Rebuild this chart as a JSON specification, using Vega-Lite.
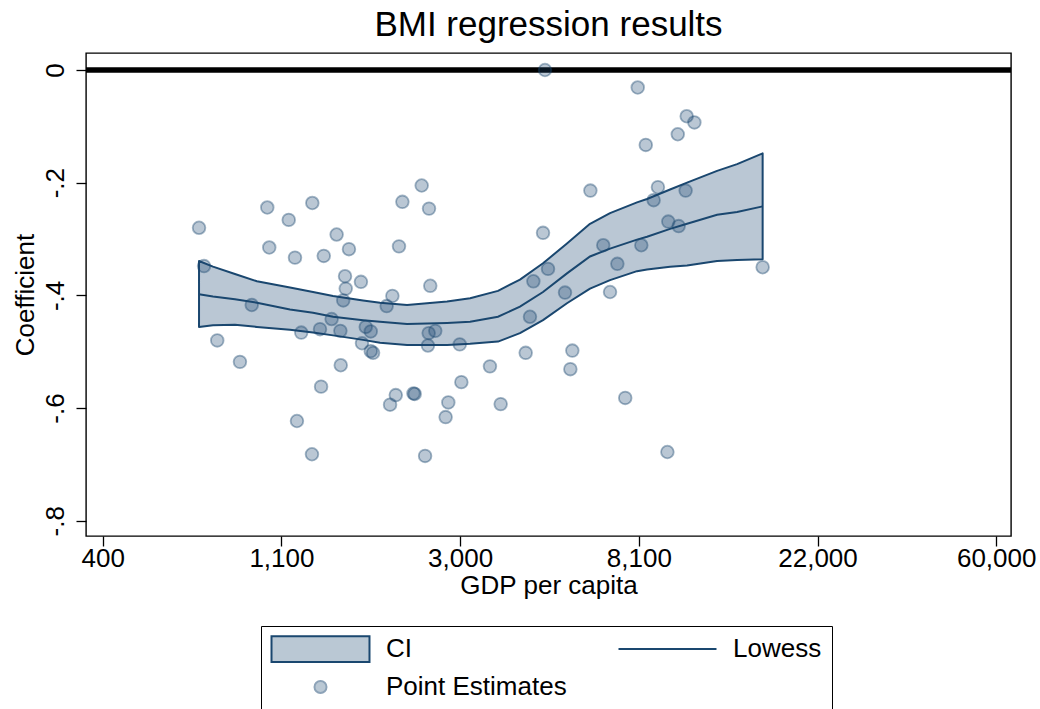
{
  "$schema": "https://vega.github.io/schema/vega-lite/v6.json",
  "width": 925,
  "height": 483,
  "autosize": {"type": "none"},
  "padding": {"left": 86, "top": 53, "right": 29, "bottom": 173},
  "background": "white",
  "title": {
    "text": "BMI regression results",
    "font": "Liberation Sans",
    "fontSize": 35,
    "fontWeight": "normal",
    "color": "#000",
    "anchor": "middle",
    "frame": "group",
    "baseline": "alphabetic",
    "offset": -17.5
  },
  "config": {
    "view": {"stroke": "#000", "strokeWidth": 1.4},
    "axis": {
      "domain": false,
      "grid": false,
      "tickColor": "#000",
      "tickWidth": 1.3,
      "tickSize": 10,
      "labelFont": "Liberation Sans",
      "labelFontSize": 26,
      "labelColor": "#000",
      "titleFont": "Liberation Sans",
      "titleFontSize": 26,
      "titleFontWeight": "normal",
      "titleColor": "#000",
      "labelOverlap": false,
      "labelFlush": false
    }
  },
  "datasets": {
    "points": [
      {"lngdp": 6.539, "coef": -0.280}, {"lngdp": 6.567, "coef": -0.348}, {"lngdp": 6.921, "coef": -0.244},
      {"lngdp": 7.041, "coef": -0.266}, {"lngdp": 7.173, "coef": -0.236}, {"lngdp": 6.932, "coef": -0.315},
      {"lngdp": 7.076, "coef": -0.333}, {"lngdp": 7.237, "coef": -0.330}, {"lngdp": 7.309, "coef": -0.292},
      {"lngdp": 7.378, "coef": -0.318}, {"lngdp": 7.677, "coef": -0.234}, {"lngdp": 7.785, "coef": -0.205},
      {"lngdp": 7.826, "coef": -0.246}, {"lngdp": 7.658, "coef": -0.313}, {"lngdp": 7.356, "coef": -0.366},
      {"lngdp": 7.445, "coef": -0.376}, {"lngdp": 7.360, "coef": -0.388}, {"lngdp": 7.833, "coef": -0.383},
      {"lngdp": 7.621, "coef": -0.401}, {"lngdp": 6.834, "coef": -0.417}, {"lngdp": 7.346, "coef": -0.409},
      {"lngdp": 7.589, "coef": -0.419}, {"lngdp": 7.281, "coef": -0.442}, {"lngdp": 7.111, "coef": -0.466},
      {"lngdp": 7.216, "coef": -0.460}, {"lngdp": 7.330, "coef": -0.463}, {"lngdp": 7.472, "coef": -0.456},
      {"lngdp": 7.500, "coef": -0.464}, {"lngdp": 7.824, "coef": -0.467}, {"lngdp": 7.861, "coef": -0.463},
      {"lngdp": 6.641, "coef": -0.480}, {"lngdp": 7.451, "coef": -0.485}, {"lngdp": 7.820, "coef": -0.489},
      {"lngdp": 7.998, "coef": -0.487}, {"lngdp": 6.768, "coef": -0.518}, {"lngdp": 7.500, "coef": -0.499},
      {"lngdp": 7.513, "coef": -0.502}, {"lngdp": 7.332, "coef": -0.524}, {"lngdp": 8.007, "coef": -0.554},
      {"lngdp": 7.222, "coef": -0.562}, {"lngdp": 7.640, "coef": -0.577}, {"lngdp": 7.608, "coef": -0.594},
      {"lngdp": 7.746, "coef": -0.575}, {"lngdp": 7.739, "coef": -0.574}, {"lngdp": 7.934, "coef": -0.590},
      {"lngdp": 7.919, "coef": -0.616}, {"lngdp": 7.087, "coef": -0.623}, {"lngdp": 7.171, "coef": -0.682},
      {"lngdp": 7.804, "coef": -0.685},
      {"lngdp": 8.475, "coef": 0.000}, {"lngdp": 8.994, "coef": -0.031}, {"lngdp": 9.268, "coef": -0.082},
      {"lngdp": 9.311, "coef": -0.093}, {"lngdp": 9.218, "coef": -0.114}, {"lngdp": 9.039, "coef": -0.133},
      {"lngdp": 8.729, "coef": -0.214}, {"lngdp": 9.107, "coef": -0.208}, {"lngdp": 9.083, "coef": -0.231},
      {"lngdp": 9.262, "coef": -0.214}, {"lngdp": 8.464, "coef": -0.289}, {"lngdp": 9.165, "coef": -0.269},
      {"lngdp": 9.223, "coef": -0.277}, {"lngdp": 8.801, "coef": -0.311}, {"lngdp": 9.014, "coef": -0.311},
      {"lngdp": 8.880, "coef": -0.344}, {"lngdp": 8.492, "coef": -0.353}, {"lngdp": 8.410, "coef": -0.375},
      {"lngdp": 8.587, "coef": -0.395}, {"lngdp": 8.839, "coef": -0.394}, {"lngdp": 9.693, "coef": -0.350},
      {"lngdp": 8.391, "coef": -0.438}, {"lngdp": 8.367, "coef": -0.502}, {"lngdp": 8.628, "coef": -0.498},
      {"lngdp": 8.167, "coef": -0.526}, {"lngdp": 8.617, "coef": -0.531}, {"lngdp": 8.227, "coef": -0.593},
      {"lngdp": 8.924, "coef": -0.582}, {"lngdp": 9.160, "coef": -0.678}
    ],
    "fit": [
      {"lngdp": 6.539, "hi": -0.339, "lowess": -0.398, "lo": -0.456},
      {"lngdp": 6.617, "hi": -0.349, "lowess": -0.402, "lo": -0.453},
      {"lngdp": 6.740, "hi": -0.362, "lowess": -0.407, "lo": -0.452},
      {"lngdp": 6.863, "hi": -0.375, "lowess": -0.413, "lo": -0.456},
      {"lngdp": 7.048, "hi": -0.386, "lowess": -0.425, "lo": -0.461},
      {"lngdp": 7.177, "hi": -0.394, "lowess": -0.431, "lo": -0.466},
      {"lngdp": 7.289, "hi": -0.401, "lowess": -0.438, "lo": -0.471},
      {"lngdp": 7.457, "hi": -0.409, "lowess": -0.444, "lo": -0.479},
      {"lngdp": 7.552, "hi": -0.413, "lowess": -0.447, "lo": -0.484},
      {"lngdp": 7.703, "hi": -0.417, "lowess": -0.451, "lo": -0.488},
      {"lngdp": 7.927, "hi": -0.411, "lowess": -0.449, "lo": -0.488},
      {"lngdp": 8.056, "hi": -0.405, "lowess": -0.447, "lo": -0.486},
      {"lngdp": 8.212, "hi": -0.392, "lowess": -0.438, "lo": -0.482},
      {"lngdp": 8.335, "hi": -0.372, "lowess": -0.420, "lo": -0.467},
      {"lngdp": 8.464, "hi": -0.343, "lowess": -0.394, "lo": -0.444},
      {"lngdp": 8.598, "hi": -0.308, "lowess": -0.361, "lo": -0.414},
      {"lngdp": 8.727, "hi": -0.273, "lowess": -0.331, "lo": -0.388},
      {"lngdp": 8.839, "hi": -0.254, "lowess": -0.317, "lo": -0.373},
      {"lngdp": 8.990, "hi": -0.235, "lowess": -0.301, "lo": -0.357},
      {"lngdp": 9.046, "hi": -0.229, "lowess": -0.296, "lo": -0.354},
      {"lngdp": 9.175, "hi": -0.212, "lowess": -0.282, "lo": -0.349},
      {"lngdp": 9.270, "hi": -0.200, "lowess": -0.273, "lo": -0.347},
      {"lngdp": 9.438, "hi": -0.179, "lowess": -0.257, "lo": -0.339},
      {"lngdp": 9.550, "hi": -0.167, "lowess": -0.252, "lo": -0.337},
      {"lngdp": 9.693, "hi": -0.148, "lowess": -0.242, "lo": -0.336}
    ]
  },
  "layer": [
    {
      "data": {"values": [{"ref": 0}]},
      "mark": {"type": "rule", "color": "#000", "strokeWidth": 5.5},
      "encoding": {
        "y": {"field": "ref", "type": "quantitative", "scale": {"domain": [-0.8271, 0.0302], "nice": false, "zero": false}}
      }
    },
    {
      "data": {"name": "fit"},
      "mark": {"type": "area", "fill": "#1a476f", "fillOpacity": 0.3, "stroke": "#1a476f", "strokeWidth": 2, "strokeJoin": "round"},
      "encoding": {
        "x": {"field": "lngdp", "type": "quantitative"},
        "y": {"field": "hi", "type": "quantitative"},
        "y2": {"field": "lo"}
      }
    },
    {
      "data": {"name": "points"},
      "mark": {"type": "point", "shape": "circle", "filled": true, "fill": "#1a476f", "fillOpacity": 0.3, "stroke": "#1a476f", "strokeOpacity": 0.4, "strokeWidth": 1.8, "size": 160, "opacity": 1},
      "encoding": {
        "x": {"field": "lngdp", "type": "quantitative"},
        "y": {"field": "coef", "type": "quantitative"}
      }
    },
    {
      "data": {"name": "fit"},
      "mark": {"type": "line", "color": "#1a476f", "strokeWidth": 2},
      "encoding": {
        "x": {"field": "lngdp", "type": "quantitative",
          "scale": {"domain": [5.9065, 11.0828], "nice": false, "zero": false},
          "axis": {
            "values": [6, 7, 8, 9, 10, 11],
            "labelExpr": "format(exp(datum.value), ',.2r')",
            "labelAlign": "center",
            "labelBaseline": "alphabetic",
            "labelPadding": 20,
            "title": "GDP per capita",
            "titleBaseline": "alphabetic",
            "titleX": 462.5,
            "titleY": 57
          }
        },
        "y": {"field": "lowess", "type": "quantitative",
          "axis": {
            "values": [0, -0.2, -0.4, -0.6, -0.8],
            "labelExpr": "datum.value == 0 ? '0' : '-.' + round(abs(datum.value) * 10)",
            "labelAngle": 270,
            "labelAlign": "center",
            "labelBaseline": "alphabetic",
            "labelPadding": 13,
            "title": "Coefficient",
            "titleAngle": 270,
            "titleAlign": "center",
            "titleBaseline": "alphabetic",
            "titleX": -52.5,
            "titleY": 241.5
          }
        }
      }
    },
    {
      "data": {"values": []},
      "mark": {"type": "point", "opacity": 1},
      "encoding": {
        "fill": {
          "field": "series", "type": "nominal",
          "scale": {"domain": ["CI", "Lowess", "Point Estimates"], "range": ["#bac8d4", "transparent", "#bac8d4"]},
          "legend": {
            "title": null,
            "orient": "none",
            "direction": "horizontal",
            "legendX": 175,
            "legendY": 573,
            "columns": 2,
            "columnPadding": 47,
            "rowPadding": 4,
            "padding": 10,
            "strokeColor": "#000",
            "fillColor": "#fff",
            "labelFont": "Liberation Sans",
            "labelFontSize": 26,
            "labelColor": "#000",
            "labelOffset": 52.5,
            "labelLimit": 400,
            "symbolOffset": 36.5,
            "symbolSize": 576,
            "symbolStrokeWidth": 2,
            "symbolFillColor": "#bac8d4",
            "symbolStrokeColor": "#1a476f",
            "gridAlign": "each"
          }
        },
        "stroke": {
          "field": "series", "type": "nominal",
          "scale": {"domain": ["CI", "Lowess", "Point Estimates"], "range": ["#1a476f", "#1a476f", "#8da3b8"]},
          "legend": {"title": null, "symbolFillColor": "#bac8d4", "symbolStrokeColor": "#1a476f"}
        },
        "shape": {
          "field": "series", "type": "nominal",
          "scale": {
            "domain": ["CI", "Lowess", "Point Estimates"],
            "range": [
              "M-4.083,-1.067H4.083V1.067H-4.083Z",
              "M-4.083,-1.067M4.083,1.067M-4.083,0H4.083",
              "M-4.083,-1.067M4.083,1.067M0.5,0A0.5,0.5,0,1,1,-0.5,0A0.5,0.5,0,1,1,0.5,0Z"
            ]
          },
          "legend": {"title": null, "symbolFillColor": "#bac8d4", "symbolStrokeColor": "#1a476f"}
        }
      }
    }
  ]
}
